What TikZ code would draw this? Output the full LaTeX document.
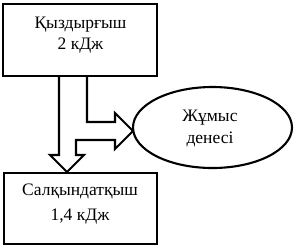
\documentclass[tikz,border=0pt]{standalone}
\usepackage{fontspec}
\setmainfont{Liberation Serif}
\usetikzlibrary{shapes.geometric}
\tikzset{
  boxshape/.style={draw, line width=2.1pt, rectangle, minimum width=154pt, minimum height=72pt, inner sep=0pt, outer sep=0pt},
  ellshape/.style={draw, line width=2.1pt, ellipse, minimum width=159pt, minimum height=81pt, inner sep=0pt, outer sep=0pt},
  lbl/.style={anchor=base, inner sep=0pt, font=\fontsize{17.5}{21}\selectfont},
  fatarrow/.style={draw, line width=2.1pt, line join=miter, fill=white}
}
\begin{document}
\begin{tikzpicture}[x=1pt,y=-1pt]
\useasboundingbox (0,0) rectangle (296,250);
% arrow outline
\coordinate (a1) at (59,76);
\coordinate (a2) at (59,155);
\coordinate (a3) at (50,155);
\coordinate (a4) at (67,172);
\coordinate (a5) at (84,155);
\coordinate (a6) at (76,155);
\coordinate (a7) at (76,140);
\coordinate (a8) at (115,140);
\coordinate (a9) at (115,149);
\coordinate (a10) at (133,131);
\coordinate (a11) at (115,113);
\coordinate (a12) at (115,122);
\coordinate (a13) at (87,122);
\coordinate (a14) at (87,76);
\draw[fatarrow] (a1) -- (a2) -- (a3) -- (a4) -- (a5) -- (a6) -- (a7) -- (a8) -- (a9) -- (a10) -- (a11) -- (a12) -- (a13) -- (a14);
\node[boxshape] (heater) at (80,40) {};
\node[boxshape, minimum width=153pt, minimum height=71.5pt] (cooler) at (80.5,208.3) {};
\node[ellshape] (body) at (212.5,127.5) {};
\node[lbl] (h1) at (80.5,28.3) {Қыздырғыш};
\node[lbl] (h2) at (80.5,49.3) {2 кДж};
\node[lbl] (c1) at (80,195.7) {Салқындатқыш};
\node[lbl] (c2) at (80,220.7) {1,4 кДж};
\node[lbl] (b1) at (210,121.7) {Жұмыс};
\node[lbl] (b2) at (210,143.3) {денесі};
\end{tikzpicture}
\end{document}
